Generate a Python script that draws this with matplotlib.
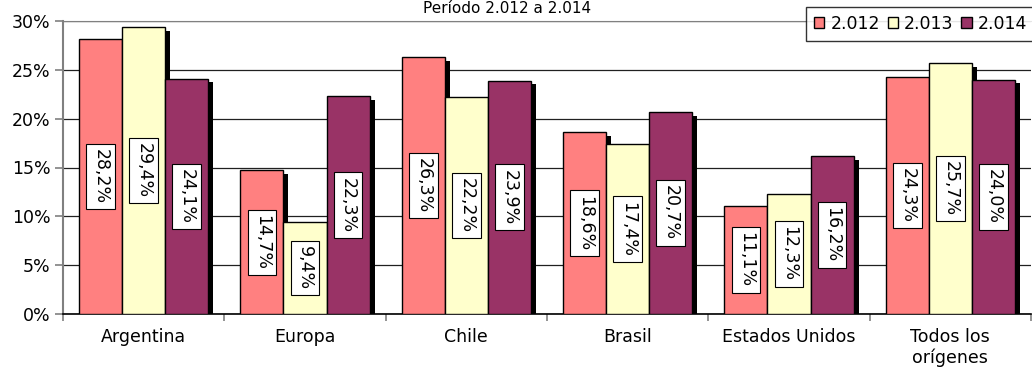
import matplotlib
matplotlib.use('Agg')
from matplotlib import pyplot as plt
from matplotlib import patheffects
from matplotlib.ticker import MultipleLocator, FuncFormatter
import numpy as np

categories = ['Argentina', 'Europa', 'Chile', 'Brasil', 'Estados Unidos', 'Todos los\norígenes']
years = ['2.012', '2.013', '2.014']
v2012 = [28.2, 14.7, 26.3, 18.6, 11.1, 24.3]
v2013 = [29.4, 9.4, 22.2, 17.4, 12.3, 25.7]
v2014 = [24.1, 22.3, 23.9, 20.7, 16.2, 24.0]
colors = ['#FF8080', '#FFFFCC', '#993366']

plt.rcParams['font.family'] = ['DejaVu Sans']
fs = 12.5

fig = plt.figure(figsize=(10.32, 3.69), dpi=100)
ax = fig.add_axes([63 / 1032, 1 - 314 / 369, (1031 - 63) / 1032, (314 - 21) / 369])

x = np.arange(len(categories))
w = 0.8 / 3
shadow = [patheffects.SimplePatchShadow(offset=(3.6, -2.7), shadow_rgbFace='black', alpha=1.0),
          patheffects.Normal()]

for i, (vals, c, lab) in enumerate(zip([v2012, v2013, v2014], colors, years)):
    pos = x + (i - 1) * w
    bars = ax.bar(pos, vals, w, color=c, edgecolor='black', linewidth=1.0, label=lab, zorder=3)
    for b in bars:
        b.set_path_effects(shadow)
    for p, v in zip(pos, vals):
        ax.text(p, v / 2, ('%.1f%%' % v).replace('.', ','), rotation=-90, ha='center', va='center',
                fontsize=fs, zorder=5,
                bbox=dict(boxstyle='square,pad=0.3', facecolor='white', edgecolor='black', linewidth=0.8))

ax.set_xlim(-0.5, len(categories) - 0.5)
ax.set_ylim(0, 30)
ax.yaxis.set_major_locator(MultipleLocator(5))
ax.yaxis.set_major_formatter(FuncFormatter(lambda v, p: '%d%%' % v))
ax.grid(axis='y', color='#202020', linewidth=0.9, zorder=0)
ax.set_axisbelow(True)

ax.set_xticks(x)
ax.set_xticklabels(categories, fontsize=fs, linespacing=1.15)
ax.tick_params(axis='x', length=0, pad=10)
ax.set_xticks(np.arange(len(categories) + 1) - 0.5, minor=True)
ax.tick_params(axis='x', which='minor', length=5, color='#808080', width=1.2)
ax.tick_params(axis='y', labelsize=fs, length=6, color='#808080', width=1.2, pad=3)

ax.spines['right'].set_visible(False)
ax.spines['left'].set_color('#808080')
ax.spines['left'].set_linewidth(1.5)
ax.spines['top'].set_color('#808080')
ax.spines['bottom'].set_color('black')
ax.spines['bottom'].set_linewidth(1.2)

fig.text(507 / 1032, 1 - 1 / 369, 'Período 2.012 a 2.014', ha='center', va='top', fontsize=11)

leg = ax.legend(loc='upper left', bbox_to_anchor=(806 / 1032, 1 - 7 / 369), bbox_transform=fig.transFigure,
                ncol=3, fontsize=fs, frameon=True, fancybox=False, borderpad=0.45,
                handlelength=0.6, handleheight=0.6, handletextpad=0.35, columnspacing=0.45,
                borderaxespad=0)
leg.get_frame().set_edgecolor('black')
leg.get_frame().set_linewidth(1.0)
for h in leg.legend_handles:
    h.set_path_effects([])

fig.savefig('out.png', dpi=100)
